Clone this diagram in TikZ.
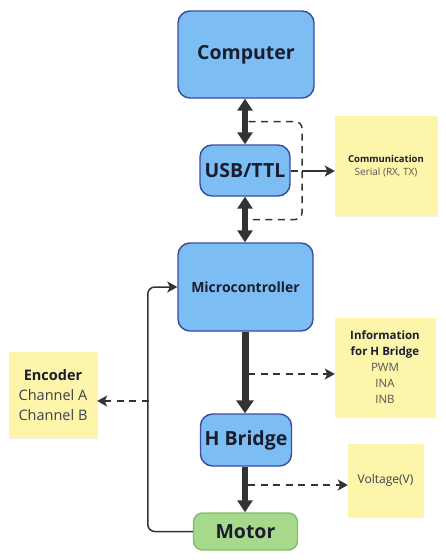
\documentclass[tikz,border=0pt]{standalone}
\usepackage{fontspec}
\setmainfont{Open Sans}
\usepackage{xcolor}
\usetikzlibrary{arrows.meta}
\usetikzlibrary{calc}
\usetikzlibrary{positioning,shadows}

\definecolor{boxblue}{HTML}{7CBDF4}
\definecolor{blueedge}{HTML}{3A4B9F}
\definecolor{boxgreen}{HTML}{A7D98C}
\definecolor{greenedge}{HTML}{82BE68}
\definecolor{noteyellow}{HTML}{FDF6AA}
\definecolor{arrowgray}{HTML}{333333}
\definecolor{textdark}{HTML}{1B1D2E}
\definecolor{notegray}{HTML}{555555}

\tikzset{
    block/.style={draw=blueedge, fill=boxblue, line width=1.4pt, rounded corners=12pt,
        text=textdark, font=\bfseries\fontsize{19.5}{23}\selectfont, inner sep=0pt},
    note/.style={fill=noteyellow, align=center, inner sep=0pt, text=notegray,
        drop shadow={opacity=0.12, shadow xshift=1pt, shadow yshift=-1pt}},
    bigarrow/.style={draw=arrowgray, line width=5.5pt},
    dashline/.style={draw=arrowgray, line width=1.5pt, dash pattern=on 7pt off 5.5pt},
    thinarrow/.style={draw=arrowgray, line width=1.5pt, -{Stealth[length=10pt,width=11pt,inset=2.5pt]}}
}

\begin{document}
\begin{tikzpicture}[x=1pt,y=-1pt]
    \useasboundingbox (0,0) rectangle (445,560);

    % main blocks
    \node[block, minimum width=136pt, minimum height=87pt] (computer) at (246,54.5) {Computer};
    \node[block, minimum width=90pt, minimum height=51pt] (usb) at (245,170.5) {USB/TTL};
    \node[block, minimum width=135pt, minimum height=88pt, font=\bfseries\fontsize{14}{17}\selectfont] (micro) at (245.5,287) {Microcontroller};
    \node[block, minimum width=91pt, minimum height=52pt] (hbridge) at (246,440) {H Bridge};
    \node[block, draw=greenedge, fill=boxgreen, rounded corners=9pt, minimum width=104pt, minimum height=37pt] (motor) at (245.5,531.5) {Motor};

    % sticky notes
    \node[note, minimum width=102pt, minimum height=100pt, font=\fontsize{10}{13.5}\selectfont] (comm) at (386,166)
        {{\color{textdark}\bfseries\fontsize{9.5}{13.5}\selectfont Communication}\\Serial (RX, TX)};
    \node[note, minimum width=100pt, minimum height=99pt, font=\fontsize{11.5}{16}\selectfont] (info) at (385,367.5)
        {{\color{textdark}\bfseries Information}\\{\color{textdark}\bfseries for H Bridge}\\PWM\\INA\\INB};
    \node[note, minimum width=88pt, minimum height=86pt, text=textdark!85, font=\fontsize{14.5}{20}\selectfont] (encoder) at (53,395)
        {{\color{textdark}\bfseries Encoder}\\Channel A\\Channel B};
    \node[note, minimum width=75pt, minimum height=73pt, text=textdark!85, font=\fontsize{12}{14}\selectfont] (voltage) at (385.5,480.5) {Voltage(V)};

    % data path
    \draw[bigarrow, {Triangle[length=12pt,width=15pt]}-{Triangle[length=12pt,width=15pt]}] (computer.south -| usb) -- (usb.north);
    \draw[bigarrow, {Triangle[length=12pt,width=15pt]}-{Triangle[length=12pt,width=15pt]}] (usb.south) -- (micro.north -| usb);
    \draw[bigarrow, line width=7pt, -{Triangle[length=13pt,width=17pt]}] (micro.south -| usb) -- (hbridge.north -| usb);
    \draw[bigarrow, -{Triangle[length=12pt,width=15pt]}] (hbridge.south -| usb) -- (motor.north -| usb);

    % serial bracket
    \coordinate (brtop) at ($(computer.south)!0.5!(usb.north)+(3,0)$);
    \coordinate (brbot) at ($(usb.south)!0.5!(micro.north)+(3,0)$);
    \coordinate (brx) at (302,171);
    \draw[dashline, rounded corners=7pt] (brtop) -- (brtop -| brx) -- (brbot -| brx) -- (brbot);
    \draw[dashline] (usb.east |- brx) -- (brx);
    \draw[thinarrow] (brx) -- (brx -| comm.west);

    % signal notes
    \coordinate (mh) at (248,374);
    \draw[dashline, thinarrow] (mh) -- (mh -| info.west);
    \coordinate (hv) at (248,485);
    \draw[dashline, thinarrow] (hv) -- (hv -| voltage.west);

    % feedback loop
    \draw[thinarrow, rounded corners=7pt] (motor.west) -- ++(-45,0) |- (micro.west);
    \coordinate (fb) at (148.5,401);
    \draw[dashline, thinarrow] (fb) -- (fb -| encoder.east);
\end{tikzpicture}
\end{document}
